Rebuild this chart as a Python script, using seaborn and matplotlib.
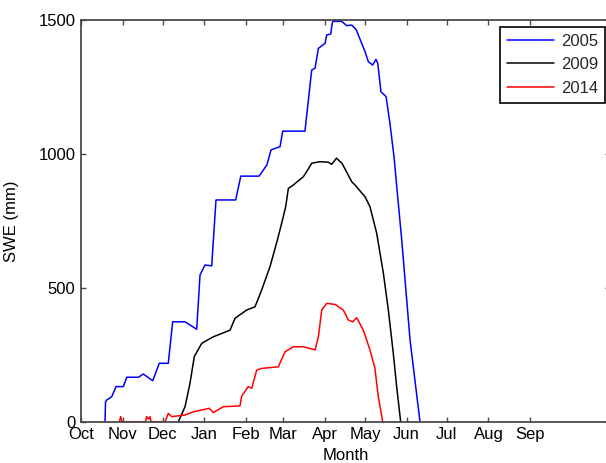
import numpy as np
import pandas as pd
import matplotlib
matplotlib.use("Agg")
import matplotlib.pyplot as plt
import seaborn as sns

# Snow water equivalent through the water year (days since 1 October)
days_2005 = [17.9, 18.3, 19.2, 22.9, 26.1, 31.6, 34.1, 42.8, 46.5, 53.5, 58.4, 65.1,
             68.4, 77.6, 86.3, 88.8, 92.5, 97.5, 100.7, 115.4, 119.2, 132.8, 138.6,
             141.8, 148.5, 150.5, 167.1, 172.1, 174.6, 177.1, 182.1, 183.3, 186.3,
             187.5, 188.2, 194.5, 198.2, 202.0, 205.2, 209.4, 211.9, 214.4, 217.6,
             220.1, 221.4, 223.8, 227.6, 230.5, 233.5, 239.3, 245.5, 252.9]
swe_2005 = [0, 75, 81, 93, 131, 131, 166, 166, 178, 153, 218, 218,
            373, 373, 345, 548, 585, 582, 828, 828, 917, 917, 958,
            1015, 1027, 1085, 1085, 1313, 1320, 1394, 1413, 1444, 1448,
            1490, 1495, 1495, 1479, 1481, 1465, 1413, 1382, 1344, 1332,
            1353, 1338, 1232, 1214, 1114, 990, 678, 305, 0]

days_2009 = [72.6, 77.6, 81.3, 84.5, 90.1, 98.7, 111.2, 114.9, 123.6, 129.8, 134.8,
             141.0, 146.5, 150.9, 152.7, 154.7, 158.4, 165.9, 168.4, 172.1, 178.3,
             184.5, 187.0, 190.6, 194.7, 202.0, 204.4, 211.9, 215.6, 220.6, 225.6,
             229.3, 233.0, 235.5, 238.5]
swe_2009 = [0, 56, 143, 243, 293, 317, 342, 386, 417, 429, 492,
            579, 678, 765, 803, 871, 884, 915, 934, 965, 971,
            969, 961, 984, 965, 896, 884, 840, 803, 704, 554,
            417, 255, 131, 0]

days_2014 = [28.7, 29.6, 30.6, 48.1, 49.0, 50.4, 51.5, 52.2, 62.7, 65.1, 67.7, 77.6,
             83.8, 95.7, 98.7, 106.2, 118.6, 119.9, 124.8, 127.4, 131.1, 134.8,
             147.2, 152.2, 158.4, 165.9, 174.6, 177.1, 179.6, 183.3, 189.5, 195.7,
             199.4, 202.7, 205.7, 210.6, 215.6, 219.3, 221.8, 225.1]
swe_2014 = [0, 19, 0, 0, 19, 10, 19, 0, 0, 31, 19, 25,
            37, 50, 34, 56, 59, 96, 131, 125, 193, 199,
            205, 261, 280, 280, 268, 317, 417, 442, 438, 417,
            380, 373, 388, 342, 268, 199, 93, 0]

years = ["2005", "2009", "2014"]
colors = ["#0000ff", "#000000", "#ff0000"]

month_labels = ["Oct", "Nov", "Dec", "Jan", "Feb", "Mar",
                "Apr", "May", "Jun", "Jul", "Aug", "Sep"]
month_starts = [0, 31, 61, 92, 123, 151, 182, 212, 243, 273, 304, 335]
y_ticks = [0, 500, 1000, 1500]

frames = []
for yr, d, s in zip(years, [days_2005, days_2009, days_2014],
                    [swe_2005, swe_2009, swe_2014]):
    frames.append(pd.DataFrame({"day": d, "swe": s, "year": yr,
                                "order": np.arange(len(d))}))
df = pd.concat(frames, ignore_index=True)

sns.set_theme(style="white")
plt.rcParams["font.family"] = ["Liberation Sans", "DejaVu Sans"]

fig = plt.figure(figsize=(6.06, 4.63), dpi=100)
ax = fig.add_axes([0.1337, 0.0892, 0.8736, 0.8676])

sns.lineplot(data=df, x="day", y="swe", hue="year", units="year",
             estimator=None, sort=False, palette=dict(zip(years, colors)),
             linewidth=1.1, ax=ax)

ax.set_xlim(0, 395)
ax.set_ylim(0, 1500)
ax.set_xticks(month_starts)
ax.set_xticklabels(month_labels)
ax.set_yticks(y_ticks)

spine_col = "#4a4a4a"
for sp in ax.spines.values():
    sp.set_visible(True)
    sp.set_color(spine_col)
    sp.set_linewidth(1.3)
    sp.set_zorder(3)

ax.tick_params(axis="both", which="major", direction="in", length=3.5,
               width=1.0, color=spine_col, labelsize=12, labelcolor="black",
               top=True, right=True, bottom=True, left=True, pad=4)

ax.set_xlabel("Month", fontsize=12, color="black", labelpad=4)
ax.set_ylabel("SWE (mm)", fontsize=12, color="black")
ax.yaxis.set_label_coords(-0.117, 0.5)

handles, labels = ax.get_legend_handles_labels()
leg = ax.legend(handles, labels, loc="upper right",
                bbox_to_anchor=(0.9898, 0.9826), borderaxespad=0,
                fontsize=12, frameon=True, fancybox=False, shadow=False,
                framealpha=1, edgecolor="black", handlelength=2.8,
                handletextpad=0.4, labelspacing=0.5, borderpad=0.42)
leg.get_frame().set_linewidth(1.2)
for line in leg.get_lines():
    line.set_linewidth(1.1)

fig.savefig("out.png", dpi=100)
